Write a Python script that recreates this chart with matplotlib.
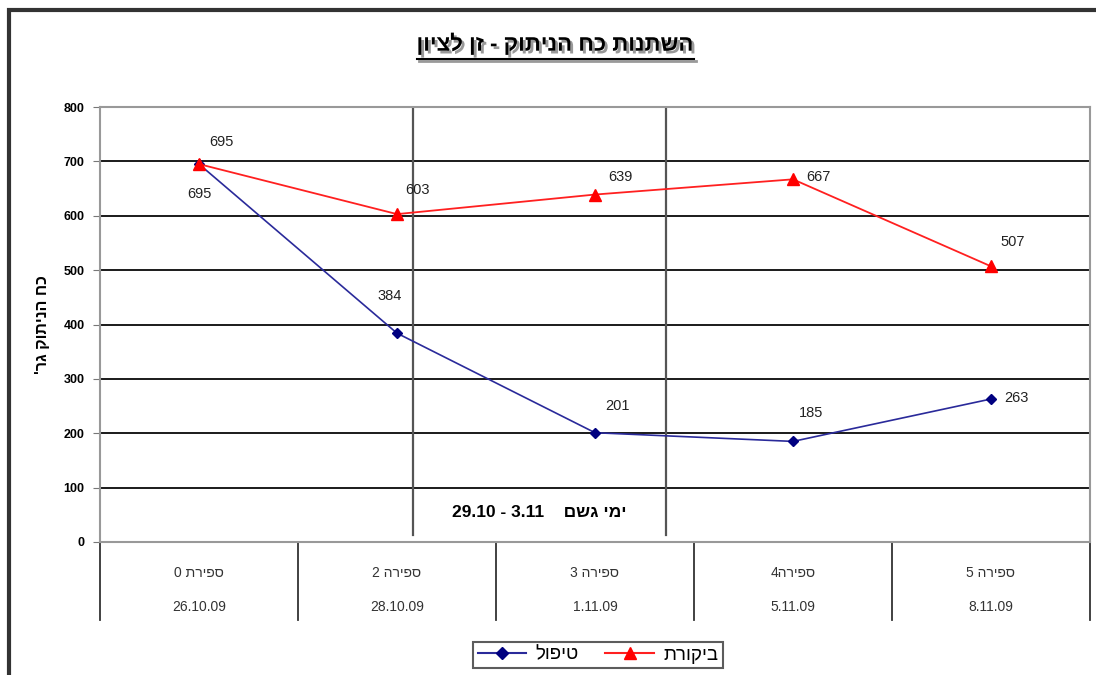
import matplotlib

matplotlib.use("Agg")
import matplotlib.pyplot as plt
import matplotlib.patheffects as pe
from matplotlib.patches import Rectangle
from matplotlib.lines import Line2D

plt.rcParams["font.family"] = ["Liberation Sans", "DejaVu Sans"]


def heb(s):
    # matplotlib has no bidi support, so Hebrew is written in visual order
    return s[::-1]


counts = ["ספירת 0", "ספירה 2", "ספירה 3", "ספירה4", "ספירה 5"]
dates = ["26.10.09", "28.10.09", "1.11.09", "5.11.09", "8.11.09"]
treatment = [695, 384, 201, 185, 263]
control = [695, 603, 639, 667, 507]
treatment_name = "טיפול"
control_name = "ביקורת"
title = "השתנות כח הניתוק - זן לציון"
ylabel = "כח הניתוק גר'"
rain_text = "ימי גשם"
rain_dates = "29.10 - 3.11"
rain_start, rain_end = 1.08, 2.36
yticks = [0, 100, 200, 300, 400, 500, 600, 700, 800]

# label offsets in pixels (dx, dy)
control_off = [(22, 22), (21, 24), (25, 18), (25, 2), (22, 24)]
treatment_off = [(0, -30), (-7, 37), (22, 27), (18, 28), (25, 1)]

fig = plt.figure(figsize=(10.96, 6.75), dpi=100)
ax = fig.add_axes([100 / 1096, 1 - 542 / 675, 990 / 1096, 435 / 675])
x = list(range(len(counts)))

ax.set_xlim(-0.5, len(counts) - 0.5)
ax.set_ylim(0, 800)
ax.set_yticks(yticks)
ax.set_yticklabels([str(v) for v in yticks], fontsize=9, fontweight="bold")
ax.set_xticks([])
ax.tick_params(axis="y", direction="out", length=5, color="#777777", pad=6)
for side in ["top", "right", "left", "bottom"]:
    ax.spines[side].set_color("#999999")
    ax.spines[side].set_linewidth(1.5)

for v in yticks[1:-1]:
    ax.axhline(v, color="#1a1a1a", lw=1.4, zorder=1)

# rain period lines
for xv in [rain_start, rain_end]:
    ax.plot([xv, xv], [13, 800], color="#555555", lw=1.6, zorder=1.5)
ax.text((rain_start + rain_end) / 2, 55, rain_dates + "    " + heb(rain_text),
        ha="center", va="center", fontsize=12.5, fontweight="bold")

ax.plot(x, treatment, color="#2a2a9a", lw=1.2, marker="D", ms=5,
        mfc="#000080", mec="#000080", zorder=3)
ax.plot(x, control, color="#ff2020", lw=1.3, marker="^", ms=8,
        mfc="#ff0000", mec="#ff0000", zorder=3)

for xi, v, off in zip(x, control, control_off):
    ax.annotate(str(v), (xi, v), xytext=off, textcoords="offset pixels",
                ha="center", va="center", fontsize=10.5, color="#222222")
for xi, v, off in zip(x, treatment, treatment_off):
    ax.annotate(str(v), (xi, v), xytext=off, textcoords="offset pixels",
                ha="center", va="center", fontsize=10.5, color="#222222")

# category table under the axis
trans = ax.get_xaxis_transform()
table_h = 78 / 435
for b in [i - 0.5 for i in range(len(counts) + 1)]:
    ax.plot([b, b], [0, -table_h], color="#333333", lw=1.3, transform=trans,
            clip_on=False)
for xi, c, d in zip(x, counts, dates):
    ax.text(xi, -31 / 435, heb(c), transform=trans, ha="center", va="center",
            fontsize=10, color="#333333")
    ax.text(xi, -65 / 435, d, transform=trans, ha="center", va="center",
            fontsize=10, color="#333333")

ax.set_ylabel(heb(ylabel), fontsize=11.5, fontweight="bold", labelpad=10)

t = fig.text(555 / 1096, 1 - 45 / 675, heb(title), ha="center", va="center",
             fontsize=16, fontweight="bold",
             path_effects=[pe.SimplePatchShadow(offset=(2, -2), shadow_rgbFace="#999999", alpha=1),
                           pe.Normal()])
fig.canvas.draw()
bb = t.get_window_extent().transformed(fig.transFigure.inverted())
uy = bb.y0 - 3 / 675
fig.add_artist(Line2D([bb.x0 + 2 / 1096, bb.x1 + 2 / 1096], [uy - 2 / 675, uy - 2 / 675],
                      color="#999999", lw=2, transform=fig.transFigure))
fig.add_artist(Line2D([bb.x0, bb.x1], [uy, uy], color="black", lw=1.5,
                      transform=fig.transFigure))

handles = [Line2D([], [], color="#2a2a9a", marker="D", ms=6, mfc="#000080", mec="#000080"),
           Line2D([], [], color="#ff2020", marker="^", ms=9, mfc="#ff0000", mec="#ff0000")]
leg = fig.legend(handles, [heb(treatment_name), heb(control_name)], loc="center",
                 bbox_to_anchor=(598 / 1096, 1 - 655 / 675), ncol=2, fontsize=13.5,
                 frameon=True, fancybox=False, handlelength=2.6, columnspacing=1.4,
                 borderpad=0.25, handletextpad=0.5)
leg.get_frame().set_edgecolor("#333333")
leg.get_frame().set_linewidth(1.5)

fig.add_artist(Rectangle((9 / 1096, -0.05), 1.2, 1 - 10 / 675 + 0.05, fill=False,
                         edgecolor="#333333", lw=3, transform=fig.transFigure))

fig.savefig("out.png", dpi=100)
